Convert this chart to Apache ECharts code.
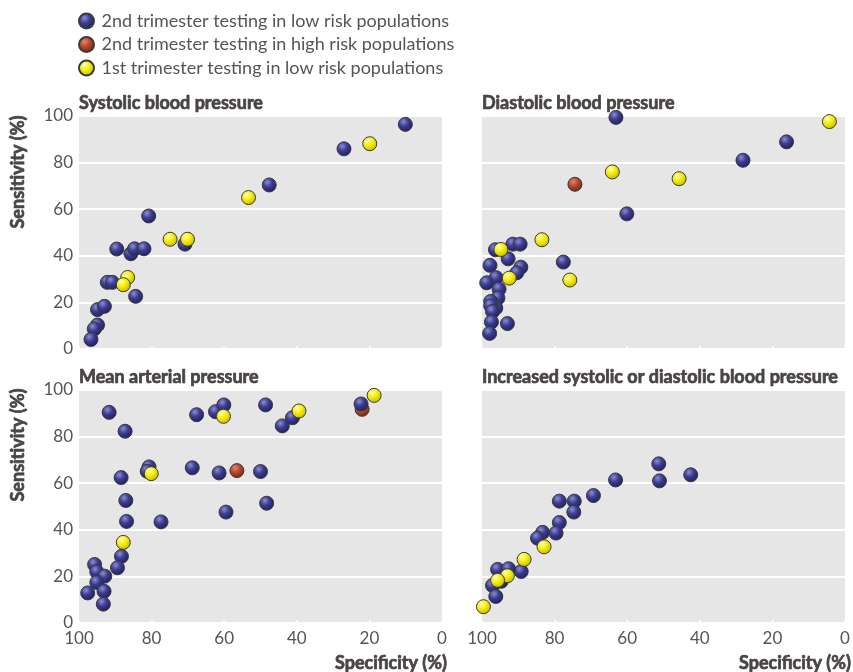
<!DOCTYPE html>
<html>
<head>
<meta charset="utf-8">
<script src="https://cdn.jsdelivr.net/npm/echarts@6/dist/echarts.min.js"></script>
<style>
  html, body { margin: 0; padding: 0; background: #fff; }
  #main { width: 853px; height: 672px; }
</style>
</head>
<body>
<div id="main"></div>
<script>
// [specificity %, sensitivity %]
var panelTitles = ['Systolic blood pressure', 'Diastolic blood pressure',
                   'Mean arterial pressure', 'Increased systolic or diastolic blood pressure'];
var groupNames = ['2nd trimester testing in low risk populations',
                  '2nd trimester testing in high risk populations',
                  '1st trimester testing in low risk populations'];
var xTicks = [0, 20, 40, 60, 80, 100];
var yTicks = [0, 20, 40, 60, 80, 100];

// systolic
var sbpLow2 = [[10.1,96.4],[27.0,85.9],[47.6,70.4],[80.8,57.1],[70.8,45],[89.6,42.9],
  [85.7,40.9],[84.7,43],[82.1,43],[92.2,28.6],[90.8,28.6],[84.4,22.6],[94.9,16.9],
  [93.0,18.3],[94.9,10.3],[95.8,8.6],[96.7,4.1]];
var sbpHigh2 = [];
var sbpLow1 = [[19.9,88.1],[53.3,65],[74.9,47.1],[70.1,47.1],[86.6,30.7],[87.8,27.6]];

// diastolic
var dbpLow2 = [[63.1,99.4],[16.1,88.9],[28.1,81],[60.1,58],[77.6,37.3],[91.5,45],
  [89.5,45],[96.3,42.6],[92.8,38.7],[89.3,35.1],[90.4,32.7],[97.8,35.9],[96.1,30.6],
  [98.7,28.4],[95.3,25.7],[95.6,21.9],[97.6,20.4],[96.2,17.6],[97.6,18.6],[97.1,16.1],
  [97.4,11.6],[93.0,10.9],[97.9,6.7]];
var dbpHigh2 = [[74.4,70.7]];
var dbpLow1 = [[4.3,97.6],[45.7,73.1],[64.1,76],[83.5,46.9],[94.8,42.7],[92.5,30.4],[75.8,29.6]];

// mean arterial
var mapLow2 = [[91.7,90.4],[87.3,82.3],[67.6,89.4],[62.4,90.7],[60.1,93.6],[48.6,93.6],
  [44.0,84.6],[41.2,88.1],[22.3,94],[80.7,67],[81.2,65.1],[68.8,66.6],[61.4,64.4],
  [50.0,65],[48.3,51.4],[59.5,47.6],[77.4,43.4],[88.4,62.4],[87.1,52.6],[86.9,43.6],
  [88.3,28.6],[89.4,23.7],[95.7,25.1],[95.1,22],[92.9,20.1],[95.1,17.4],[97.6,12.9],
  [93.1,13.6],[93.3,8.1]];
var mapHigh2 = [[56.5,65.4],[22.0,91.7]];
var mapLow1 = [[18.7,97.7],[39.4,91],[60.2,88.7],[80.1,64.1],[87.8,34.6]];

// systolic or diastolic
var eitherLow2 = [[51.3,68.3],[51.1,61],[42.5,63.6],[63.2,61.4],[69.3,54.7],[78.7,52.3],
  [74.6,52.3],[74.7,47.6],[78.7,43.1],[79.6,38.6],[83.3,38.9],[84.7,36.4],[89.2,22.1],
  [95.7,23],[92.7,23.3],[94.7,17.9],[97.1,16.1],[96.2,11.4]];
var eitherHigh2 = [];
var eitherLow1 = [[82.9,32.7],[88.4,27.3],[93.0,20.3],[95.7,18.3],[99.6,7]];

var panels = [
  [sbpLow2, sbpHigh2, sbpLow1],
  [dbpLow2, dbpHigh2, dbpLow1],
  [mapLow2, mapHigh2, mapLow1],
  [eitherLow2, eitherHigh2, eitherLow1]
];

var chart = echarts.init(document.getElementById('main'));

function ball(light, mid, dark) {
  return {
    type: 'radial', x: 0.38, y: 0.32, r: 0.7,
    colorStops: [{offset: 0, color: light}, {offset: 0.45, color: mid}, {offset: 1, color: dark}]
  };
}
var fills = [
  ball('#8c8cd8', '#3d3d92', '#1e1e5c'),
  ball('#e2866a', '#b44a2e', '#7a2410'),
  ball('#ffffb0', '#f4ee10', '#c8b800')
];

var gridPos = [
  {left: 79, top: 116}, {left: 482, top: 116},
  {left: 79, top: 390}, {left: 482, top: 390}
];
var grids = [], xAxes = [], yAxes = [], titles = [], series = [];
var labelFont = 'Lato, "Noto Sans", sans-serif';
var heading = '#4a4545';

for (var p = 0; p < 4; p++) {
  grids.push({
    left: gridPos[p].left, top: gridPos[p].top, width: 363, height: 233,
    show: true, backgroundColor: '#e6e6e6', borderWidth: 0
  });
  xAxes.push({
    gridIndex: p, type: 'value', min: 0, max: 100, interval: 20, inverse: true,
    axisLine: {show: false},
    axisTick: {show: true, inside: true, length: 3, lineStyle: {color: '#ffffff', width: 1.5}},
    splitLine: {show: false},
    axisLabel: {show: p >= 2, fontSize: 17, color: '#555', fontFamily: labelFont, margin: 7,
      formatter: function (v) { return xTicks.indexOf(v) >= 0 ? String(v) : ''; }}
  });
  yAxes.push({
    gridIndex: p, type: 'value', min: 0, max: 100, interval: 20,
    axisLine: {show: false}, axisTick: {show: false},
    splitLine: {show: true, lineStyle: {color: '#ffffff', width: 2}},
    axisLabel: {show: p % 2 === 0, fontSize: 17, color: '#555', fontFamily: labelFont, margin: 6,
      formatter: function (v) { return yTicks.indexOf(v) >= 0 ? String(v) : ''; }}
  });
  titles.push({
    text: panelTitles[p], left: gridPos[p].left, top: gridPos[p].top - 22, padding: 0,
    textStyle: {fontSize: 18, fontWeight: 'bold', color: heading, fontFamily: labelFont,
      textBorderColor: heading, textBorderWidth: 0.7}
  });
  // draw order: high risk, then 2nd low, then 1st low on top
  [1, 0, 2].forEach(function (g) {
    series.push({
      name: groupNames[g], type: 'scatter', xAxisIndex: p, yAxisIndex: p,
      data: panels[p][g], symbolSize: 14,
      itemStyle: {color: fills[g], borderColor: '#3a3a3a', borderWidth: 1, opacity: 1}
    });
  });
}

function axisName(x, y, rot, align) {
  return {
    type: 'text', x: x, y: y, rotation: rot,
    style: {text: '', align: align, verticalAlign: 'middle',
      font: 'bold 18px ' + labelFont, fill: heading, stroke: heading, lineWidth: 0.7}
  };
}
var names = [
  axisName(18, 172, Math.PI / 2, 'center'),
  axisName(18, 445, Math.PI / 2, 'center'),
  axisName(447, 663, 0, 'right'),
  axisName(851, 663, 0, 'right')
];
names[0].style.text = 'Sensitivity (%)';
names[1].style.text = 'Sensitivity (%)';
names[2].style.text = 'Specificity (%)';
names[3].style.text = 'Specificity (%)';

var option = {
  animation: false,
  title: titles,
  legend: {
    data: groupNames, orient: 'vertical', left: 78, top: 12, padding: 0, itemGap: 5.5,
    itemWidth: 20, itemHeight: 15, icon: 'circle',
    textStyle: {fontSize: 18, lineHeight: 18, color: '#555', fontFamily: labelFont}
  },
  grid: grids,
  xAxis: xAxes,
  yAxis: yAxes,
  series: series,
  graphic: names
};

chart.setOption(option);
</script>
</body>
</html>
